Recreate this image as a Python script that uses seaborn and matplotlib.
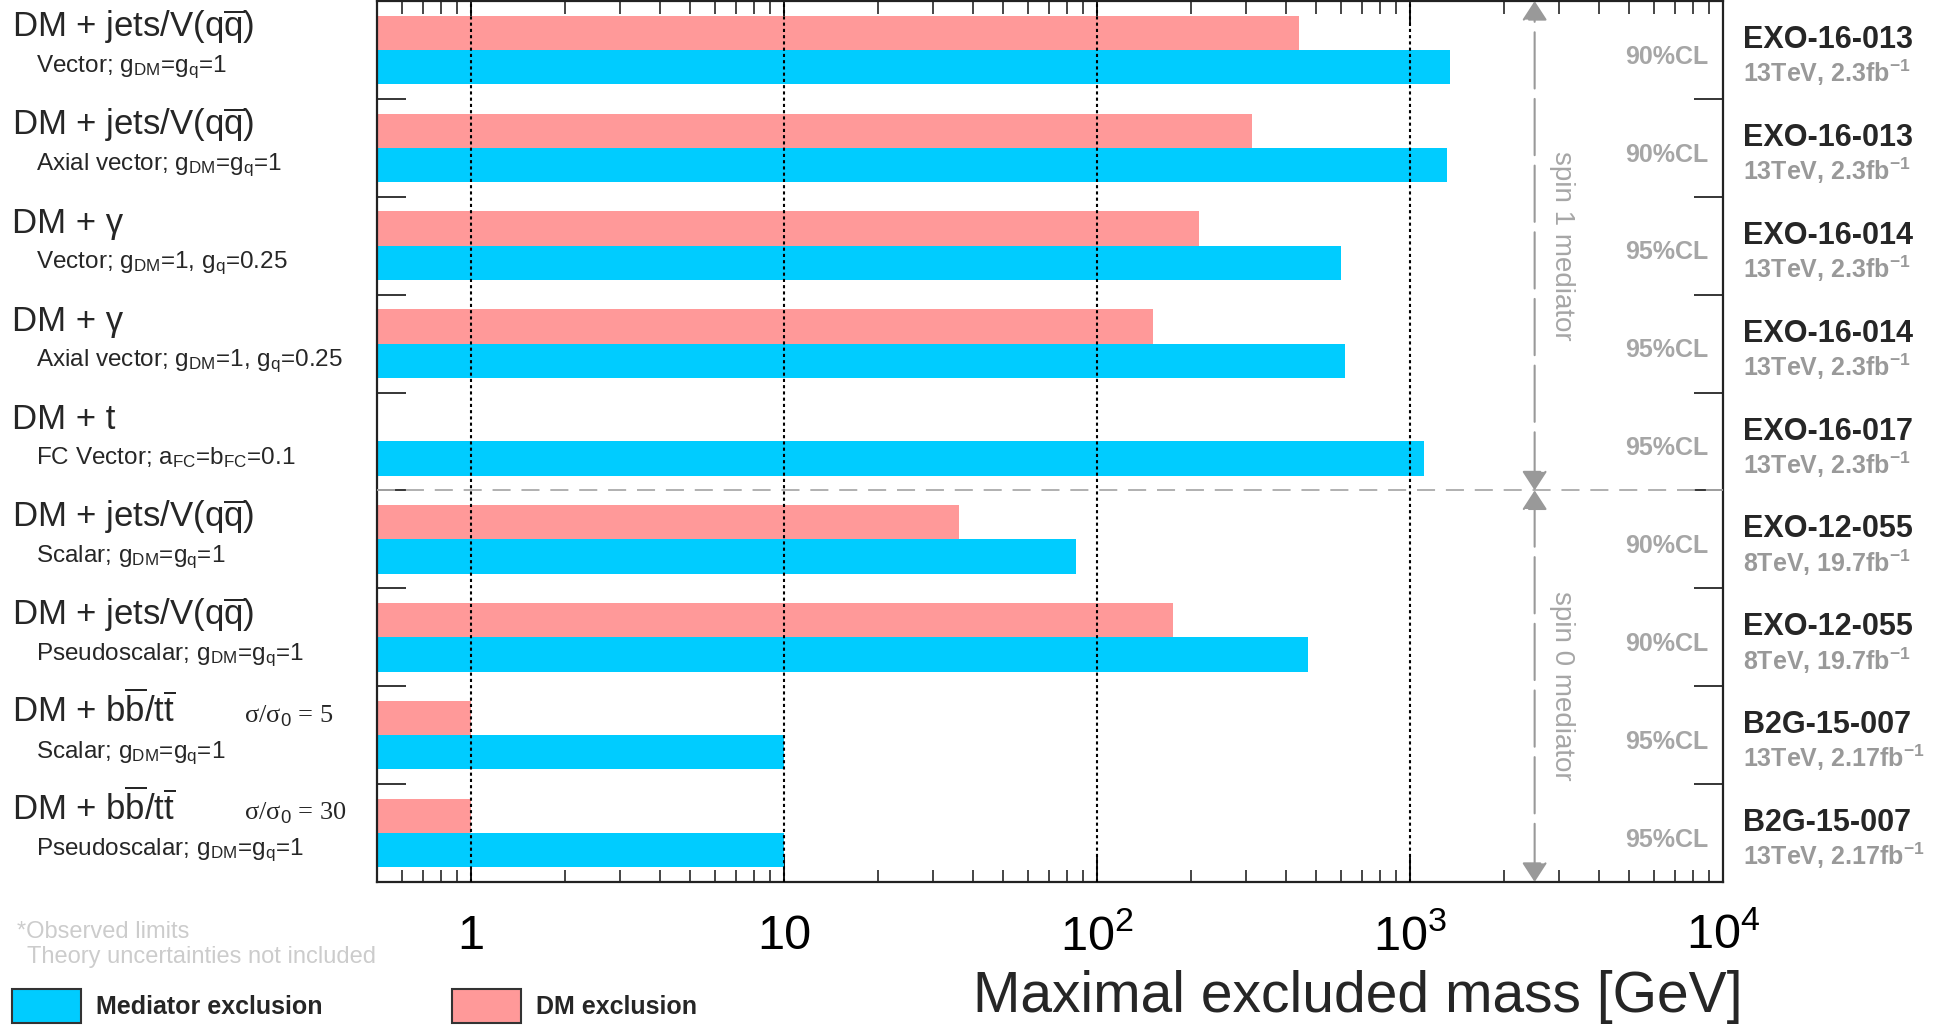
import numpy as np
import pandas as pd
import seaborn as sns
import matplotlib
matplotlib.use('Agg')  # no display
import matplotlib.pyplot as plt
from matplotlib.transforms import blended_transform_factory
from matplotlib.patches import Patch
from matplotlib.ticker import FixedLocator, LogLocator, NullFormatter, NullLocator

# --- data ---
channels = [r'DM + jets/V(q$\overline{\mathrm{q}}$)', r'DM + jets/V(q$\overline{\mathrm{q}}$)',
            'DM + γ', 'DM + γ', 'DM + t',
            r'DM + jets/V(q$\overline{\mathrm{q}}$)', r'DM + jets/V(q$\overline{\mathrm{q}}$)',
            r'DM + b$\overline{\mathrm{b}}$/t$\overline{\mathrm{t}}$',
            r'DM + b$\overline{\mathrm{b}}$/t$\overline{\mathrm{t}}$']
models = [r'Vector; g$_{\mathrm{DM}}$=g$_{\mathrm{q}}$=1',
          r'Axial vector; g$_{\mathrm{DM}}$=g$_{\mathrm{q}}$=1',
          r'Vector; g$_{\mathrm{DM}}$=1, g$_{\mathrm{q}}$=0.25',
          r'Axial vector; g$_{\mathrm{DM}}$=1, g$_{\mathrm{q}}$=0.25',
          r'FC Vector; a$_{\mathrm{FC}}$=b$_{\mathrm{FC}}$=0.1',
          r'Scalar; g$_{\mathrm{DM}}$=g$_{\mathrm{q}}$=1',
          r'Pseudoscalar; g$_{\mathrm{DM}}$=g$_{\mathrm{q}}$=1',
          r'Scalar; g$_{\mathrm{DM}}$=g$_{\mathrm{q}}$=1',
          r'Pseudoscalar; g$_{\mathrm{DM}}$=g$_{\mathrm{q}}$=1']
xsec_notes = ['', '', '', '', '', '', '', 'σ/σ$_{0}$ = 5', 'σ/σ$_{0}$ = 30']
analyses = ['EXO-16-013', 'EXO-16-013', 'EXO-16-014', 'EXO-16-014', 'EXO-16-017',
            'EXO-12-055', 'EXO-12-055', 'B2G-15-007', 'B2G-15-007']
datasets = [r'13TeV, 2.3fb$^{\mathbf{-1}}$'] * 5 + [r'8TeV, 19.7fb$^{\mathbf{-1}}$'] * 2 \
    + [r'13TeV, 2.17fb$^{\mathbf{-1}}$'] * 2
conf_levels = ['90%CL', '90%CL', '95%CL', '95%CL', '95%CL', '90%CL', '90%CL', '95%CL', '95%CL']
mediator_limits = [1345, 1309, 603, 620, 1111, 85.7, 471, 10, 10]
dm_limits = [442, 313, 211, 151, np.nan, 36.3, 174.5, 1, 1]
spin_labels = ['spin 1 mediator', 'spin 0 mediator']
spin_sizes = [5, 4]
x_ticks = [1, 10, 100, 1000, 10000]
x_tick_labels = ['1', '10', '$10^{2}$', '$10^{3}$', '$10^{4}$']
arrow_x = 2500

BLUE = '#00ccff'
PINK = '#ff9999'
GRAY = '#a6a6a6'

rows = [str(i) for i in range(len(channels))]
df = pd.DataFrame({
    'row': rows * 2,
    'limit': mediator_limits + dm_limits,
    'kind': ['Mediator exclusion'] * len(rows) + ['DM exclusion'] * len(rows),
}).dropna()

sns.set_theme(style='ticks')
plt.rcParams['font.family'] = ['Liberation Sans', 'DejaVu Sans']
plt.rcParams['mathtext.fontset'] = 'custom'
plt.rcParams['mathtext.rm'] = 'Liberation Sans'
plt.rcParams['mathtext.it'] = 'Liberation Sans:italic'
plt.rcParams['mathtext.bf'] = 'Liberation Sans:bold'

fig = plt.figure(figsize=(19.45, 10.26), dpi=100)
ax = fig.add_axes([0.1938, 0.1404, 0.6921, 0.8586])
ax.set_xscale('log')

sns.barplot(data=df, x='limit', y='row', hue='kind', order=rows,
            hue_order=['DM exclusion', 'Mediator exclusion'],
            palette={'DM exclusion': PINK, 'Mediator exclusion': BLUE},
            orient='h', width=0.7, saturation=1, errorbar=None, linewidth=0,
            legend=False, ax=ax)

n = len(rows)
ax.set_xlim(0.5, 1e4)
ax.set_ylim(n - 0.5, -0.5)
ax.set_xlabel('')
ax.set_ylabel('')

# dotted decade lines
for v in x_ticks[:-1]:
    ax.axvline(v, color='black', ls=(0, (1.5, 1.5)), lw=1.5, zorder=4)

# axes ticks
ax.xaxis.set_major_locator(FixedLocator(x_ticks))
ax.set_xticklabels(x_tick_labels)
ax.xaxis.set_minor_locator(LogLocator(base=10, subs=np.arange(2, 10)))
ax.xaxis.set_minor_formatter(NullFormatter())
ax.set_yticks([i + 0.5 for i in range(n - 1)])
ax.set_yticklabels([])
ax.yaxis.set_minor_locator(NullLocator())
ax.tick_params(axis='x', which='major', direction='in', length=18, width=1.3,
               top=True, bottom=True, labelsize=35, pad=23, colors='black')
ax.tick_params(axis='x', which='minor', direction='in', length=9, width=1.2,
               top=True, bottom=True)
ax.tick_params(axis='y', which='major', direction='in', length=21, width=1.3,
               left=True, right=True)
for s in ax.spines.values():
    s.set_visible(True)
    s.set_color('#222222')
    s.set_linewidth(1.6)

# spin group separators and arrows
start = -0.5
for label, size in zip(spin_labels, spin_sizes):
    end = start + size
    ax.annotate('', xy=(arrow_x, start), xytext=(arrow_x, end),
                arrowprops=dict(arrowstyle='<|-|>,head_length=1.0,head_width=0.65',
                                color='#999999', lw=1.5, ls=(0, (27, 5)),
                                shrinkA=0, shrinkB=0), zorder=5)
    ax.text(0.8804, (start + end) / 2, label, transform=ax.get_yaxis_transform(),
            rotation=-90, ha='center', va='center', fontsize=20, color=GRAY)
    start = end
ax.axhline(spin_sizes[0] - 0.5, color='#aaaaaa', lw=1.3, ls=(0, (10, 6)), zorder=4)

# row annotations
tr = blended_transform_factory(fig.transFigure, ax.transData)
for i in range(n):
    fig.text(0.0062, i - 0.13, channels[i], transform=tr, fontsize=25, va='baseline')
    fig.text(0.0185, i + 0.23, models[i], transform=tr, fontsize=17.5, va='baseline')
    if xsec_notes[i]:
        fig.text(0.1255, i - 0.13, xsec_notes[i], transform=tr, fontsize=19,
                 family=['Liberation Serif', 'DejaVu Serif'], va='baseline')
    fig.text(0.8961, i - 0.02, analyses[i], transform=tr, fontsize=22,
             fontweight='bold', va='baseline')
    fig.text(0.8961, i + 0.33, datasets[i], transform=tr, fontsize=18,
             fontweight='bold', color='#999999', va='baseline')
    fig.text(0.8781, i + 0.14, conf_levels[i], transform=tr, fontsize=18,
             fontweight='bold', color=GRAY, ha='right', va='baseline')

fig.text(0.0087, 0.0858, '*Observed limits', fontsize=17, color='#cccccc', va='baseline')
fig.text(0.0139, 0.0614, 'Theory uncertainties not included', fontsize=17,
         color='#cccccc', va='baseline')
fig.text(0.896, 0.0136, 'Maximal excluded mass [GeV]', fontsize=41,
         ha='right', va='baseline')

handles = [Patch(facecolor=BLUE, edgecolor='#333333', lw=1.5, label='Mediator exclusion'),
           Patch(facecolor=PINK, edgecolor='#333333', lw=1.5, label='DM exclusion')]
fig.legend(handles=handles, loc='lower left', bbox_to_anchor=(0.006, 0.003), ncol=2,
           frameon=False, prop=dict(weight='bold', size=18), handlelength=2.76,
           handleheight=1.68, handletextpad=0.6, columnspacing=5.2,
           borderpad=0, borderaxespad=0)

fig.savefig('out.png', dpi=100)
